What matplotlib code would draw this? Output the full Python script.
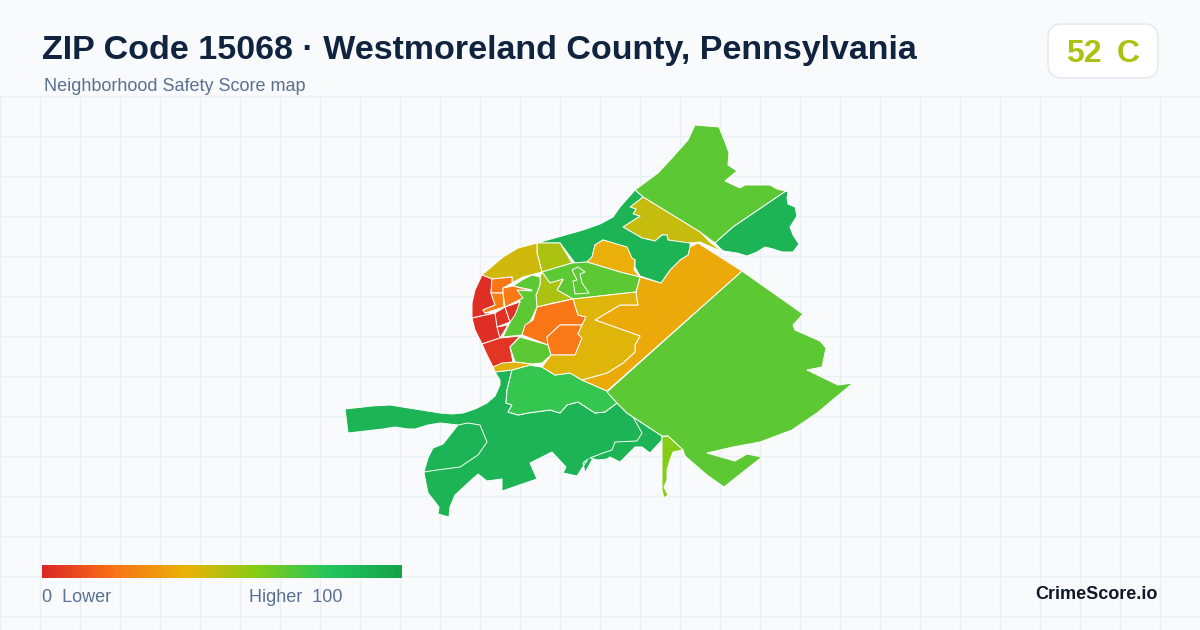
import numpy as np
import matplotlib
matplotlib.use("Agg")
import matplotlib.pyplot as plt
from matplotlib.colors import LinearSegmentedColormap
from matplotlib.patches import FancyBboxPatch

plt.rcParams['font.family'] = ['Liberation Sans', 'DejaVu Sans']

title = "ZIP Code 15068 \u00b7 Westmoreland County, Pennsylvania"
subtitle = "Neighborhood Safety Score map"
zip_score = 52
zip_grade = "C"

ramp_stops = [0.0, 0.2, 0.4, 0.6, 0.8, 1.0]
ramp_colors = ["#dc2626", "#f97316", "#eab308", "#84cc16", "#22c55e", "#16a34a"]

# outlines, in picture pixels
south_main = [(345, 409), (372, 406), (390, 405), (415, 409), (440, 413), (452, 414), (463, 413), (475, 409),
              (487, 403), (495, 396), (500, 385), (500, 380), (495, 372),
              (512, 370), (507, 390), (506, 403), (512, 405), (508, 412), (518, 415), (528, 413), (550, 410),
              (560, 413), (567, 405), (578, 402), (595, 413), (605, 412), (617, 403), (627, 413), (633, 417),
              (662, 436), (662, 440), (650, 453), (642, 447), (635, 447), (620, 462), (610, 457), (607, 459),
              (598, 460), (593, 458), (585, 473), (583, 463), (588, 459), (577, 476), (563, 473), (566, 467),
              (552, 452), (530, 463), (537, 479), (502, 491), (502, 479), (487, 481), (478, 474), (468, 483),
              (455, 495), (450, 507), (449, 517), (438, 514), (439, 507), (428, 493), (424, 473), (428, 458),
              (433, 448), (443, 444), (458, 425), (440, 423), (428, 425), (415, 429), (408, 429), (395, 427),
              (383, 429), (348, 433)]
south_west = [(458, 425), (468, 423), (480, 425), (487, 442), (478, 455), (460, 467), (437, 470), (424, 472),
              (428, 458), (433, 448), (443, 444)]
south_east = [(633, 417), (642, 433), (637, 441), (615, 442), (612, 450), (603, 453), (590, 458), (598, 460),
              (607, 459), (610, 457), (620, 462), (635, 447), (642, 447), (650, 453), (662, 440), (662, 436)]
light_green = [(512, 370), (530, 365), (542, 367), (555, 375), (570, 373), (582, 380), (607, 391), (617, 403),
               (605, 412), (595, 413), (578, 402), (567, 405), (560, 413), (550, 410), (528, 413), (518, 415),
               (508, 412), (512, 405), (506, 403), (507, 390)]
east_big = [(742, 271), (803, 314), (793, 325), (795, 330), (820, 341), (826, 348), (822, 367), (807, 370),
            (838, 385), (853, 383), (817, 413), (792, 430), (760, 442), (733, 447), (707, 453), (735, 461),
            (747, 454), (762, 457), (724, 487), (707, 475), (685, 456), (683, 450), (668, 436), (662, 436),
            (633, 417), (627, 413), (617, 403), (607, 392)]
lime_sliver = [(662, 437), (668, 436), (683, 450), (673, 452), (670, 460), (667, 470), (667, 480), (664, 487),
               (668, 495), (664, 498), (662, 490)]
amber_strip = [(698, 243), (742, 271), (607, 391), (582, 380), (607, 373), (623, 363), (635, 352), (635, 345),
               (640, 336), (595, 320), (620, 305), (638, 305), (637, 300), (636, 292), (640, 277), (661, 283),
               (670, 270), (680, 260), (688, 255), (690, 247)]
ne_big = [(635, 190), (658, 173), (672, 158), (688, 140), (695, 125), (719, 127), (725, 142), (729, 153),
          (728, 165), (737, 171), (725, 181), (740, 188), (745, 185), (770, 185), (777, 189), (786, 191),
          (733, 227), (715, 243), (700, 232), (643, 197)]
ne_dark = [(786, 191), (788, 192), (787, 198), (788, 204), (795, 207), (797, 216), (790, 227), (793, 235),
           (799, 244), (793, 252), (782, 252), (773, 249), (765, 247), (757, 252), (747, 256), (737, 253),
           (723, 251), (715, 243), (733, 227)]
ne_olive = [(643, 197), (700, 232), (711, 243), (720, 250), (730, 253), (718, 250), (700, 242), (690, 243),
            (677, 242), (668, 240), (667, 235), (662, 235), (655, 241), (642, 238), (623, 227), (640, 216),
            (633, 214), (636, 209), (630, 207)]
north_dark = [(537, 243), (583, 230), (600, 224), (613, 217), (620, 207), (635, 190), (643, 197), (630, 207),
              (636, 209), (633, 214), (640, 216), (623, 227), (642, 238), (655, 241), (662, 235), (667, 235),
              (668, 240), (690, 243), (690, 247), (688, 255), (680, 260), (670, 270), (661, 283), (640, 276),
              (635, 267), (635, 260), (628, 257), (625, 247), (603, 240), (595, 245), (592, 257), (587, 262),
              (575, 263), (560, 243)]
north_amber = [(603, 240), (627, 247), (632, 258), (635, 260), (634, 270), (640, 277), (620, 272), (587, 262),
               (592, 257), (595, 245)]
north_lime = [(537, 243), (560, 243), (572, 263), (542, 272), (537, 253)]
mid_green = [(572, 263), (587, 262), (620, 272), (640, 277), (636, 292), (573, 299), (557, 290), (563, 280),
             (550, 283), (542, 272)]
mid_lime = [(542, 272), (550, 283), (563, 279), (557, 290), (573, 299), (553, 303), (537, 307), (536, 295),
            (540, 285), (540, 277)]
squiggle = [(572, 270), (578, 267), (585, 272), (580, 274), (582, 283), (589, 293), (575, 294), (573, 281),
            (577, 280)]
west_green = [(522, 280), (532, 275), (540, 277), (540, 285), (536, 295), (537, 307), (532, 318), (522, 335),
              (503, 337), (510, 322), (520, 302), (517, 290), (532, 290), (513, 286)]
top_olive = [(482, 275), (503, 257), (518, 248), (537, 243), (537, 253), (542, 272), (523, 277), (512, 283),
             (512, 277), (492, 279)]
red_nw = [(482, 275), (475, 290), (472, 303), (472, 318), (495, 313), (485, 313), (483, 310), (495, 305),
          (491, 293), (492, 279)]
orange_a = [(492, 279), (512, 277), (512, 283), (503, 288), (503, 293), (491, 293)]
orange_b = [(491, 293), (503, 293), (504, 307), (485, 313), (483, 310), (495, 305)]
orange_c = [(503, 288), (513, 286), (532, 291), (517, 290), (523, 298), (505, 307), (503, 293)]
red_low = [(472, 318), (495, 313), (500, 338), (482, 344), (475, 330)]
red_s1 = [(495, 313), (505, 307), (510, 322), (497, 327)]
red_s2 = [(505, 307), (520, 302), (515, 315), (508, 325), (510, 322)]
red_s3 = [(497, 327), (508, 325), (500, 338)]
red_bottom = [(482, 344), (500, 338), (520, 336), (510, 347), (513, 362), (493, 367), (487, 355)]
orange_big = [(537, 307), (573, 299), (578, 315), (586, 317), (582, 325), (560, 325), (547, 337), (548, 345),
              (522, 335), (525, 325), (533, 320)]
orange_in = [(560, 325), (582, 325), (578, 334), (582, 338), (575, 355), (551, 355), (548, 345), (547, 337)]
small_green = [(520, 337), (548, 345), (551, 355), (542, 363), (532, 364), (515, 362), (510, 347)]
yellow_strip = [(493, 367), (502, 363), (515, 362), (532, 364), (542, 367), (530, 365), (512, 370), (495, 372)]
yellow_big = [(573, 299), (636, 292), (637, 300), (638, 305), (620, 305), (595, 320), (640, 336), (635, 345),
              (635, 352), (623, 363), (607, 373), (582, 380), (570, 373), (555, 375), (542, 367), (551, 355),
              (575, 355), (582, 338), (578, 334), (582, 325), (586, 317), (578, 315)]

regions = [south_main, south_west, south_east, light_green, east_big, lime_sliver, amber_strip, ne_big, ne_dark,
           ne_olive, north_dark, north_amber, north_lime, mid_green, mid_lime, squiggle, west_green, top_olive,
           red_nw, orange_a, orange_b, orange_c, red_low, red_s1, red_s2, red_s3, red_bottom, orange_big,
           orange_in, small_green, yellow_strip, yellow_big]
scores = [90, 90, 90, 76, 68, 60, 37, 68, 90, 47, 90, 39, 52, 68, 52, 68, 68, 45,
          2, 21, 23, 22, 2, 3, 3, 3, 4, 21, 22, 68, 42, 42]

cmap = LinearSegmentedColormap.from_list("safety", list(zip(ramp_stops, ramp_colors)))

fig = plt.figure(figsize=(12, 6.3), dpi=100, facecolor="#f8fafc")
ax = fig.add_axes([0, 0, 1, 1])
ax.set_facecolor("#f8fafc")

# background grid starts under the header
ax.vlines(np.arange(0, 1200, 40), 96, 630, color="#ebf0f5", lw=1, zorder=0)
ax.hlines(np.arange(96, 630, 40), 0, 1200, color="#ebf0f5", lw=1, zorder=0)

for poly, score in zip(regions, scores):
    xs, ys = zip(*poly)
    ax.fill(xs, ys, facecolor=cmap(score / 100), edgecolor="white", lw=0.7, joinstyle="round", zorder=1)

ax.text(42, 59.5, title, fontsize=24.48, fontweight="bold", color="#10243f", va="baseline", ha="left")
ax.text(44, 91, subtitle, fontsize=12.96, color="#5a7090", va="baseline", ha="left")

badge = FancyBboxPatch((1062, 38), 82, 26, boxstyle="round,pad=14,rounding_size=14",
                       facecolor="white", edgecolor="#e2e8f0", lw=1, zorder=2)
ax.add_patch(badge)
ax.text(1066, 62, str(zip_score), fontsize=23, fontweight="bold", color=cmap(zip_score / 100), va="baseline", ha="left", zorder=3)
ax.text(1140, 62, zip_grade, fontsize=23, fontweight="bold", color=cmap(zip_score / 100), va="baseline", ha="right", zorder=3)

ax.imshow(np.linspace(0, 1, 360).reshape(1, -1), cmap=cmap, extent=(42, 402, 578, 565), aspect="auto", zorder=3)
ax.text(42, 602.5, "0  Lower", fontsize=12.96, color="#5a7090", va="baseline", ha="left")
ax.text(249, 602.5, "Higher  100", fontsize=12.96, color="#5a7090", va="baseline", ha="left")
ax.text(1158, 599, "CrimeScore.io", fontsize=13, fontweight="bold", color="#0f172a", va="baseline", ha="right")

ax.set_xlim(0, 1200)
ax.set_ylim(630, 0)
ax.axis("off")

fig.savefig("out.png", dpi=100, facecolor=fig.get_facecolor())
